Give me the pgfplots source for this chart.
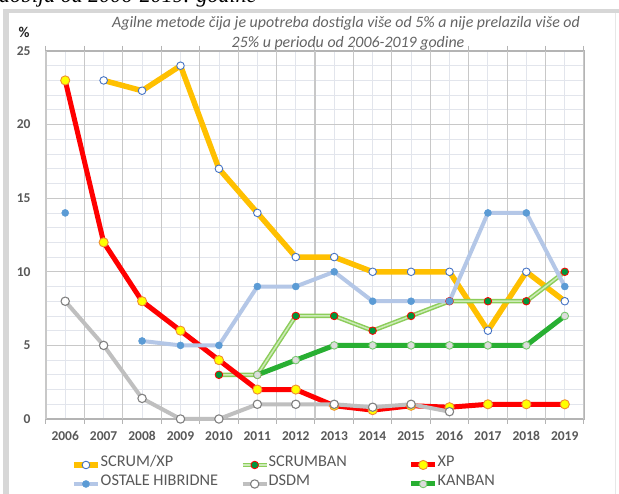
\documentclass[border=0pt]{standalone}
\usepackage{pgfplots}
\pgfplotsset{compat=1.18}
\usepackage{fontspec}
\setmainfont{Carlito}
\newfontfamily\serifit{Liberation Serif}
\definecolor{scrumxp}{RGB}{255,192,0}
\definecolor{mkblue}{RGB}{68,114,196}
\definecolor{xpred}{RGB}{255,0,0}
\definecolor{xpyel}{RGB}{255,255,0}
\definecolor{xpedge}{RGB}{240,140,50}
\definecolor{ostline}{RGB}{180,199,231}
\definecolor{ostmk}{RGB}{91,155,213}
\definecolor{dsdmline}{RGB}{191,191,191}
\definecolor{dsdmedge}{RGB}{128,128,128}
\definecolor{sbouter}{RGB}{140,205,90}
\definecolor{sbinner}{RGB}{205,235,185}
\definecolor{sbmk}{RGB}{0,150,60}
\definecolor{kanban}{RGB}{40,175,50}
\definecolor{kbmk}{RGB}{220,220,220}
\definecolor{kbedge}{RGB}{120,200,110}
\definecolor{txtgray}{RGB}{89,89,89}
\definecolor{titlegray}{RGB}{100,100,100}
\definecolor{gridmaj}{RGB}{200,200,200}
\definecolor{gridmin}{RGB}{226,229,236}
\definecolor{framegray}{RGB}{215,215,215}
\definecolor{axisgray}{RGB}{180,180,180}
\pgfplotsset{
  stdlegend/.style={legend image code/.code={\draw[mark repeat=2,mark phase=2,##1] plot coordinates {(0pt,0pt) (12pt,0pt) (24pt,0pt)};}},
  sblegend/.style={legend image code/.code={\draw[sbouter, line width=4pt] (0pt,0pt)--(24pt,0pt); \draw[sbinner, line width=1.4pt] (0pt,0pt)--(24pt,0pt); \draw[mark repeat=2,mark phase=2,##1] plot coordinates {(0pt,0pt) (12pt,0pt) (24pt,0pt)};}},
}

\begin{document}
\begin{tikzpicture}
\useasboundingbox (0pt,0pt) rectangle (619pt,494pt);
\fill[white] (0pt,0pt) rectangle (619pt,494pt);
\node[anchor=base west, inner sep=0pt, font=\serifit\itshape\fontsize{22}{26}\selectfont] at (-1pt,491.5pt) {dobija od 2006-2019. godine};
\fill[framegray] (3pt,0pt) rectangle (9pt,485pt);
\fill[framegray] (3pt,481pt) rectangle (619pt,485pt);
\draw[framegray!60, line width=1pt] (615pt,0pt) -- (615pt,481pt);
\node[font=\bfseries\fontsize{15}{18}\selectfont, text=black!85] at (24pt,462pt) {\%};
\node[anchor=base, inner sep=0pt, font=\itshape\fontsize{15.9}{18}\selectfont, text=titlegray] at (346pt,466pt) {Agilne metode čija je upotreba dostigla više od 5\% a nije prelazila više od};
\node[anchor=base, inner sep=0pt, font=\itshape\fontsize{15.9}{18}\selectfont, text=titlegray] at (348pt,446pt) {25\% u periodu od 2006-2019 godine};
\begin{axis}[
  at={(46pt,75pt)}, anchor=south west, scale only axis, width=538pt, height=368pt,
  xmin=2005.5, xmax=2019.5, ymin=0, ymax=25,
  clip=false, unbounded coords=jump,
  xtick={2006,...,2019},
  xticklabels={2006,2007,2008,2009,2010,2011,2012,2013,2014,2015,2016,2017,2018,2019},
  ytick={0,5,10,15,20,25}, yticklabels={0,5,10,15,20,25},
  minor xtick={2006,...,2019},
  minor ytick={1,2,3,4,6,7,8,9,11,12,13,14,16,17,18,19,21,22,23,24},
  xminorgrids=true, yminorgrids=true, ymajorgrids=true, xmajorgrids=false,
  minor grid style={draw=gridmin, line width=0.8pt},
  major grid style={draw=gridmaj, line width=1.1pt},
  extra x ticks={2005.5,2006.5,...,2019.5},
  extra x tick labels={},
  extra x tick style={grid=major, major tick length=5pt, tick align=outside, tick style={draw=axisgray, line width=1pt}},
  major tick length=0pt, minor tick length=0pt,
  axis line style={draw=axisgray, line width=1.3pt},
  tick label style={font=\bfseries\fontsize{13.5}{16}\selectfont, text=txtgray},
  xticklabel style={yshift=-9pt},
  yticklabel style={xshift=-12pt},
  legend columns=3, legend cell align=left,
  legend style={at={(0.0465,-0.0986)}, anchor=north west, draw=none, fill=none, inner sep=0pt,
    nodes={inner sep=0pt, text height=11.5pt, text depth=7.5pt},
    font=\fontsize{16.3}{18}\selectfont, text=txtgray},
  stdlegend,
  every axis plot/.append style={line join=round},
]
% SCRUM/XP
\addplot[scrumxp, line width=5.5pt, mark=*, mark size=3.8pt, mark options={fill=white, draw=mkblue, line width=0.9pt}]
  coordinates {(2007,23)(2008,22.3)(2009,24)(2010,17)(2011,14)(2012,11)(2013,11)(2014,10)(2015,10)(2016,10)(2017,6)(2018,10)(2019,8)};
\addlegendentry{\makebox[140pt][l]{SCRUM/XP}}
% SCRUMBAN
\addplot[forget plot, sbouter, line width=4.5pt, no markers]
  coordinates {(2010,3)(2011,3)(2012,7)(2013,7)(2014,6)(2015,7)(2016,8)(2017,8)(2018,8)(2019,10)};
\addplot[forget plot, sbinner, line width=1.5pt, no markers]
  coordinates {(2010,3)(2011,3)(2012,7)(2013,7)(2014,6)(2015,7)(2016,8)(2017,8)(2018,8)(2019,10)};
\addplot[only marks, mark=*, mark size=3.8pt, mark options={fill=sbmk, draw=xpred, line width=0.8pt}, sblegend]
  coordinates {(2010,3)(2011,3)(2012,7)(2013,7)(2014,6)(2015,7)(2016,8)(2017,8)(2018,8)(2019,10)};
\addlegendentry{\makebox[140pt][l]{SCRUMBAN}}
% XP
\addplot[xpred, line width=5pt, mark=*, mark size=4.6pt, mark options={fill=xpyel, draw=xpedge, line width=0.9pt}]
  coordinates {(2006,23)(2007,12)(2008,8)(2009,6)(2010,4)(2011,2)(2012,2)(2013,0.9)(2014,0.6)(2015,0.9)(2016,0.8)(2017,1)(2018,1)(2019,1)};
\addlegendentry{XP}
% OSTALE HIBRIDNE
\addplot[ostline, line width=4pt, mark=*, mark size=3.5pt, mark options={fill=ostmk, draw=ostmk, line width=0.5pt}]
  coordinates {(2006,14)(2007,nan)(2008,5.3)(2009,5)(2010,5)(2011,9)(2012,9)(2013,10)(2014,8)(2015,8)(2016,8)(2017,14)(2018,14)(2019,9)};
\addlegendentry{\makebox[140pt][l]{OSTALE HIBRIDNE}}
% DSDM
\addplot[dsdmline, line width=4pt, mark=*, mark size=4.2pt, mark options={fill=white, draw=dsdmedge, line width=1.1pt}]
  coordinates {(2006,8)(2007,5)(2008,1.4)(2009,0)(2010,0)(2011,1)(2012,1)(2013,1)(2014,0.8)(2015,1)(2016,0.5)};
\addlegendentry{\makebox[140pt][l]{DSDM}}
% KANBAN
\addplot[kanban, line width=5pt, mark=*, mark size=3.8pt, mark options={fill=kbmk, draw=kbedge, line width=0.9pt}]
  coordinates {(2011,3)(2012,4)(2013,5)(2014,5)(2015,5)(2016,5)(2017,5)(2018,5)(2019,7)};
\addlegendentry{KANBAN}
\end{axis}
\end{tikzpicture}
\end{document}
